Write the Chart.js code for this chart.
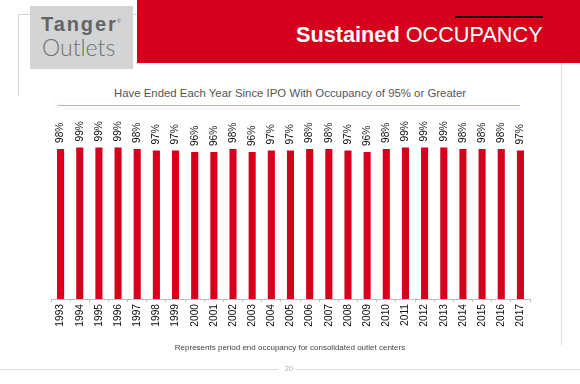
<!DOCTYPE html>
<html>
<head>
<meta charset="utf-8">
<script src="https://cdn.jsdelivr.net/npm/chart.js@4"></script>
<style>
  body { margin: 0; background: #fff; font-family: "Liberation Sans", Arial, sans-serif; }
  #page { position: relative; width: 580px; height: 384px; overflow: hidden; }
  .abs { position: absolute; }
</style>
</head>
<body>
<div id="page">
  <!-- frame lines -->
  <div class="abs" style="left:18px;top:14px;width:12px;height:1px;background:#d8d8d8"></div>
  <div class="abs" style="left:18px;top:14px;width:1px;height:82px;background:#d8d8d8"></div>
  <div class="abs" style="left:133px;top:14px;width:4px;height:1px;background:#d8d8d8"></div>
  <div class="abs" style="left:561px;top:63px;width:1px;height:282px;background:#dcdcdc"></div>

  <!-- logo -->
  <div class="abs" style="left:30px;top:6px;width:103px;height:63px;background:#d3d4d6"></div>
  <div class="abs" style="left:41px;top:13px;font-size:20px;font-weight:bold;letter-spacing:1.9px;color:#636466">Tanger</div>
  <div class="abs" style="left:117px;top:18px;font-size:5px;color:#636466">&reg;</div>
  <div class="abs" style="left:42px;top:33px;font-family:Lato,'Liberation Sans',sans-serif;font-weight:300;font-size:23px;color:#6f7072">Outlets</div>

  <!-- header band -->
  <div class="abs" style="left:137px;top:0;width:443px;height:63px;background:#d6001c"></div>
  <div class="abs" style="left:455px;top:16px;width:88px;height:2px;background:#111"></div>
  <div class="abs" style="left:296px;top:22px;font-size:21.7px;color:#fff;white-space:nowrap"><b>Sustained</b> OCCUPANCY</div>

  <!-- subtitle -->
  <div class="abs" style="left:0;width:580px;top:87px;text-align:center;font-size:11.4px;color:#555">Have Ended Each Year Since IPO With Occupancy of 95% or Greater</div>
  <div class="abs" style="left:58px;top:105px;width:462px;height:1px;background:#f09aa6"></div>

  <div class="abs" style="left:0;top:100px;width:580px;height:260px">
    <canvas id="chart"></canvas>
  </div>

  <!-- footnote -->
  <div class="abs" style="left:0;width:580px;top:343px;text-align:center;font-size:8px;color:#444">Represents period end occupancy for consolidated outlet centers</div>

  <!-- page footer -->
  <div class="abs" style="left:0;top:369px;width:278px;height:1px;background:#dcdcdc"></div>
  <div class="abs" style="left:296px;top:369px;width:284px;height:1px;background:#dcdcdc"></div>
  <div class="abs" style="left:285px;top:365px;font-size:7px;color:#aaa">20</div>
</div>

<script>
// Year-end occupancy since IPO
const years = ['1993', '1994', '1995', '1996', '1997', '1998', '1999', '2000', '2001', '2002',
    '2003', '2004', '2005', '2006', '2007', '2008', '2009', '2010', '2011', '2012',
    '2013', '2014', '2015', '2016', '2017'];
const occupancy = [98, 99, 99, 99, 98, 97, 97, 96, 96, 98,
    96, 97, 97, 98, 98, 97, 96, 98, 99, 99,
    99, 98, 98, 98, 97];

// draws the rotated "98%" labels above each bar
const barLabels = {
    id: 'barLabels',
    afterDatasetsDraw(chart) {
        const ctx = chart.ctx;
        const meta = chart.getDatasetMeta(0);
        ctx.save();
        ctx.font = '10.2px "Liberation Sans", Arial, sans-serif';
        ctx.fillStyle = '#111';
        ctx.textAlign = 'left';
        ctx.textBaseline = 'middle';
        meta.data.forEach((bar, i) => {
            ctx.save();
            ctx.translate(bar.x, bar.y - 6);
            ctx.rotate(-Math.PI / 2);
            ctx.fillText(occupancy[i] + '%', 0, 0);
            ctx.restore();
        });
        ctx.restore();
    }
};

const ctx = document.getElementById('chart').getContext('2d');
new Chart(ctx, {
    type: 'bar',
    data: {
        labels: years,
        datasets: [{
            data: occupancy,
            backgroundColor: '#d6001c',
            barPercentage: 0.37,
            categoryPercentage: 1
        }]
    },
    options: {
        responsive: true,
        maintainAspectRatio: false,
        animation: false,
        layout: { padding: { left: 51, right: 50, top: 10, bottom: 0 } },
        plugins: {
            legend: { display: false },
            tooltip: { enabled: false }
        },
        scales: {
            x: {
                afterFit: function(scale) { scale.height = 61; },
                border: { color: '#bdbdbd', width: 1 },
                grid: {
                    display: true,
                    drawOnChartArea: false,
                    drawTicks: true,
                    tickLength: 3,
                    color: '#bdbdbd'
                },
                ticks: {
                    minRotation: 90,
                    maxRotation: 90,
                    padding: 2,
                    color: '#111',
                    font: { family: '"Liberation Sans", Arial, sans-serif', size: 10.2 }
                }
            },
            y: {
                display: false,
                min: 0,
                max: 123.5
            }
        }
    },
    plugins: [barLabels]
});
</script>
</body>
</html>
